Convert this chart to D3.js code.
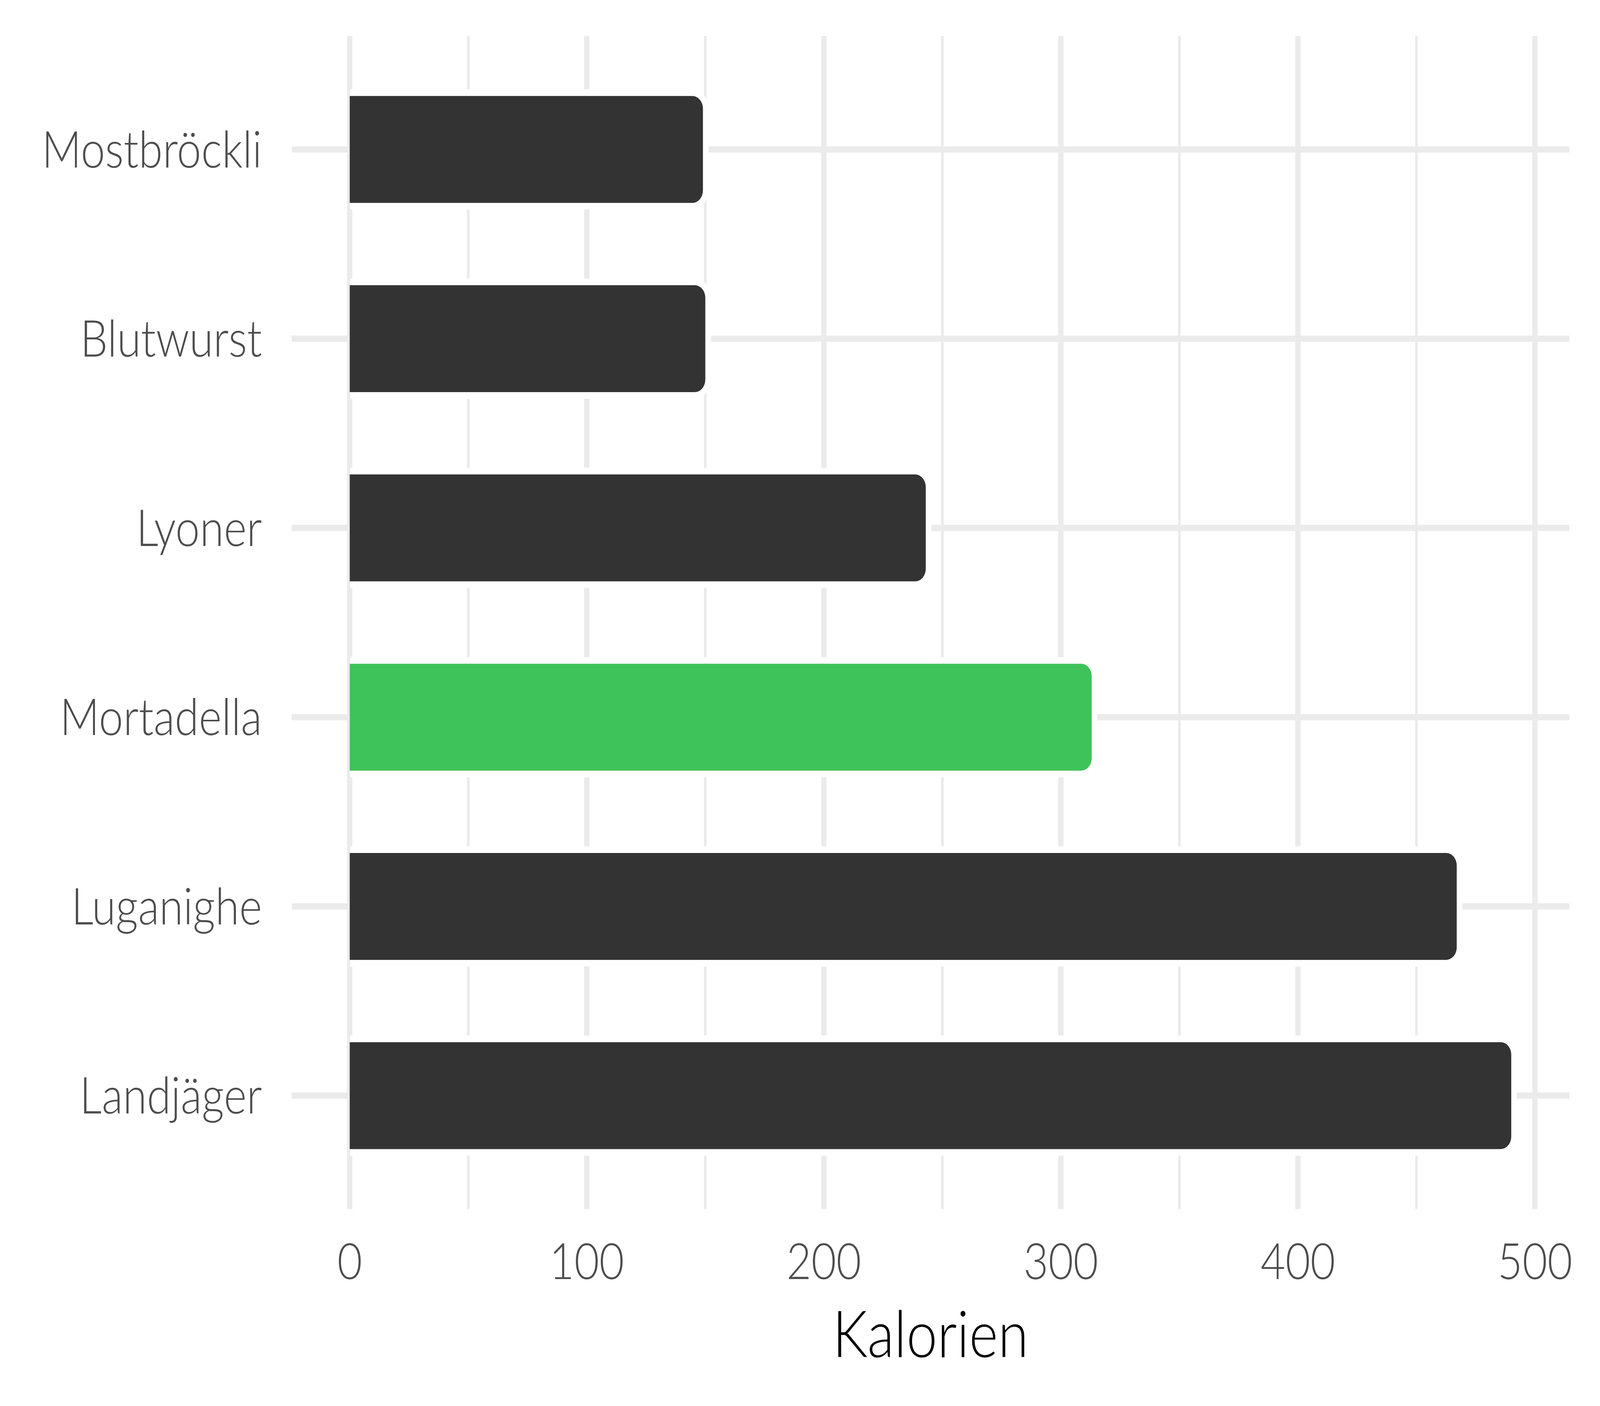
<!DOCTYPE html>
<html>
<head>
<meta charset="utf-8">
<script src="https://cdn.jsdelivr.net/npm/d3@7"></script>
<style>
  html, body { margin: 0; padding: 0; background: #ffffff; width: 100%; height: 100%; overflow: hidden; }
  svg { display: block; width: 100vw; height: 100vh; }
</style>
</head>
<body>
<script>
// ---- data ----
const categories = ["Mostbröckli", "Blutwurst", "Lyoner", "Mortadella", "Luganighe", "Landjäger"];
const calories   = [149, 150, 243, 313, 467, 490];
const highlight  = ["Mortadella"];
const xTicks     = [0, 100, 200, 300, 400, 500];
const xMinor     = [50, 150, 250, 350, 450];
const xTitle     = "Kalorien";

const W = 4800, H = 3600;
const panel = { left: 875, right: 4708, top: 92, bottom: 3096 };
const FONT = "Lato, 'Open Sans', 'Noto Sans', sans-serif";

// the drawing is laid out on a 4800x3600 canvas and fills the whole window
const svg = d3.select("body").append("svg")
  .attr("viewBox", `0 0 ${W} ${H}`)
  .attr("preserveAspectRatio", "none");

svg.append("rect").attr("width", W).attr("height", H).attr("fill", "#ffffff");

const maxV = d3.max(calories);
const x = d3.scaleLinear()
  .domain([-0.05 * maxV, maxV * 1.05])
  .range([panel.left, panel.right]);

const y = d3.scalePoint()
  .domain(categories)
  .range([panel.top, panel.bottom])
  .padding(0.6);

const step = y.step();
const barH = step * 0.565;
const grid = "#EBEBEB";

const g = svg.append("g");

// minor vertical gridlines
g.selectAll("line.minor").data(xMinor).enter().append("line")
  .attr("x1", d => x(d)).attr("x2", d => x(d))
  .attr("y1", panel.top).attr("y2", panel.bottom)
  .attr("stroke", grid).attr("stroke-width", 8);

// major vertical gridlines
g.selectAll("line.majorx").data(xTicks).enter().append("line")
  .attr("x1", d => x(d)).attr("x2", d => x(d))
  .attr("y1", panel.top).attr("y2", panel.bottom)
  .attr("stroke", grid).attr("stroke-width", 16);

// major horizontal gridlines
g.selectAll("line.majory").data(categories).enter().append("line")
  .attr("x1", panel.left).attr("x2", panel.right)
  .attr("y1", d => y(d)).attr("y2", d => y(d))
  .attr("stroke", grid).attr("stroke-width", 16);

function rightRounded(x0, y0, x1, y1, r) {
  r = Math.min(r, (x1 - x0), (y1 - y0) / 2);
  return `M${x0},${y0}H${x1 - r}A${r},${r} 0 0 1 ${x1},${y0 + r}` +
         `V${y1 - r}A${r},${r} 0 0 1 ${x1 - r},${y1}H${x0}Z`;
}

const rows = categories.map((c, i) => ({ cat: c, val: calories[i] }));
const halo = 17, rad = 32;

// white halo around bars
g.selectAll("path.halo").data(rows).enter().append("path")
  .attr("d", d => rightRounded(x(0) + 1, y(d.cat) - barH / 2 - halo,
                               x(d.val) + halo, y(d.cat) + barH / 2 + halo, rad + halo))
  .attr("fill", "#ffffff");

// bars
g.selectAll("path.bar").data(rows).enter().append("path")
  .attr("d", d => rightRounded(x(0), y(d.cat) - barH / 2,
                               x(d.val), y(d.cat) + barH / 2, rad))
  .attr("fill", d => highlight.includes(d.cat) ? "#3EC35A" : "#333333");

// y labels
g.selectAll("text.ylab").data(categories).enter().append("text")
  .attr("x", 786)
  .attr("y", d => y(d) + 46)
  .attr("text-anchor", "end")
  .attr("font-family", FONT).attr("font-weight", 300)
  .attr("font-size", 131).attr("fill", "#4D4D4D")
  .text(d => d);

// x tick labels
g.selectAll("text.xlab").data(xTicks).enter().append("text")
  .attr("x", d => x(d))
  .attr("y", 3275)
  .attr("text-anchor", "middle")
  .attr("font-family", FONT).attr("font-weight", 300)
  .attr("font-size", 129).attr("fill", "#4D4D4D")
  .text(d => d3.format("d")(d));

// x title
svg.append("text")
  .attr("x", (panel.left + panel.right) / 2)
  .attr("y", 3475)
  .attr("text-anchor", "middle")
  .attr("font-family", FONT).attr("font-weight", 300)
  .attr("font-size", 166).attr("fill", "#000000")
  .text(xTitle);
</script>
</body>
</html>
